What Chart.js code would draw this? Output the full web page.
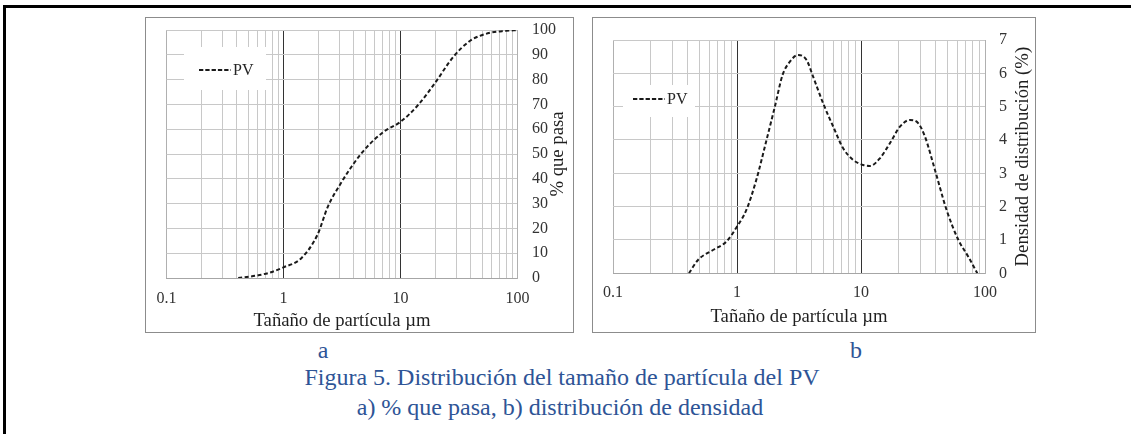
<!DOCTYPE html>
<html>
<head>
<meta charset="utf-8">
<script src="https://cdn.jsdelivr.net/npm/chart.js@4.4.0/dist/chart.umd.min.js"></script>
<style>
  body { margin: 0; width: 1131px; height: 434px; background: #fff; position: relative; overflow: hidden;
         font-family: "Liberation Serif", "Times New Roman", serif; }
  .rule { position: absolute; background: #000; }
  .frame { position: absolute; top: 17px; height: 316px; border: 1px solid #8c8c8c; box-sizing: border-box; }
  .panel { position: absolute; top: 6px; }
  .cap { position: absolute; color: #2e5496; font-size: 24px; line-height: 24px; white-space: nowrap;
         transform: translateX(-50%); }
</style>
</head>
<body>
<div class="rule" style="left:3px;top:5px;width:1128px;height:3px"></div>
<div class="rule" style="left:3px;top:5px;width:3px;height:429px"></div>

<div class="frame" style="left:145px;width:429px"></div>
<div class="frame" style="left:592px;width:444px"></div>
<div class="panel" style="left:145px"><canvas id="chartA" width="429" height="327"></canvas></div>
<div class="panel" style="left:592px"><canvas id="chartB" width="444" height="327"></canvas></div>

<div class="cap" style="left:323px;top:338px">a</div>
<div class="cap" style="left:856px;top:338px">b</div>
<div class="cap" style="left:562px;top:365px">Figura 5. Distribución del tamaño de partícula del PV</div>
<div class="cap" style="left:560px;top:395px">a) % que pasa, b) distribución de densidad</div>

<script>
// particle size (µm) and % passing, panel a
const sizeA = [0.41, 0.54, 0.74, 1.0, 1.42, 1.95, 2.4, 3.1, 4.0, 5.2, 7.2, 10, 13.9, 19.2, 28.4, 39.4, 58, 80, 100];
const passA = [0, 0.7, 2, 4.3, 8, 17.4, 28.9, 38.3, 46.3, 53, 59, 63, 69.4, 77.9, 89.3, 95.7, 98.9, 99.7, 100];

// particle size (µm) and distribution density (%), panel b
const sizeB = [0.41, 0.485, 0.64, 0.82, 1.0, 1.19, 1.43, 1.73, 2.02, 2.33, 2.67, 3.11, 3.64, 4.11, 4.95, 5.97,
               7.18, 8.65, 10.4, 11.8, 14.2, 17.1, 20.6, 24.8, 29, 32.8, 39.5, 49, 61, 73.3, 86.7];
const densB = [0, 0.4, 0.7, 0.95, 1.4, 1.9, 2.8, 4.0, 5.0, 5.95, 6.35, 6.55, 6.4, 5.9, 5.1, 4.4,
               3.75, 3.4, 3.25, 3.22, 3.45, 3.9, 4.4, 4.6, 4.5, 4.1, 3.1, 1.9, 1.0, 0.5, 0];

const seriesLabel = 'PV';
const xTickValues = [0.1, 1, 10, 100];
const xTickLabels = ['0.1', '1', '10', '100'];
const xTitle = 'Tañaño de partícula µm';
const yTitleA = '% que pasa';
const yTitleB = 'Densidad de distribución (%)';

const SERIF = '"Liberation Serif", "Times New Roman", serif';
Chart.defaults.font.family = SERIF;

// every 1..9 x 10^n line between 0.1 and 100
const logGrid = [];
for (let e = -1; e <= 1; e++) {
  for (let m = 1; m <= 9; m++) logGrid.push(Number((m * Math.pow(10, e)).toPrecision(3)));
}
logGrid.push(100);

const isMajor = v => Math.abs(v - 1) < 1e-9 || Math.abs(v - 10) < 1e-9;
const isEdge = v => Math.abs(v - 0.1) < 1e-9 || Math.abs(v - 100) < 1e-9;

const decor = {
  id: 'decor',
  afterDraw(chart, args, o) {
    const { ctx, chartArea: a } = chart;
    ctx.save();

    // legend
    const lg = o.legend;
    ctx.fillStyle = '#fff';
    ctx.fillRect(lg.x, lg.y, lg.w, lg.h);
    ctx.strokeStyle = '#1a1a1a';
    ctx.lineWidth = 2;
    ctx.setLineDash([4.3, 2]);
    ctx.beginPath();
    ctx.moveTo(lg.lx, lg.ly);
    ctx.lineTo(lg.lx + 32, lg.ly);
    ctx.stroke();
    ctx.setLineDash([]);
    ctx.fillStyle = '#262626';
    ctx.font = '16px ' + SERIF;
    ctx.textBaseline = 'middle';
    ctx.textAlign = 'left';
    ctx.fillText(chart.data.datasets[0].label, lg.lx + 34, lg.ly + 1);

    // axis titles
    ctx.fillStyle = '#1f1f1f';
    ctx.font = '18.7px ' + SERIF;
    ctx.textAlign = 'center';
    ctx.textBaseline = 'alphabetic';
    ctx.fillText(o.xTitle, (a.left + a.right) / 2, a.bottom + o.xTitleDy);
    ctx.translate(a.right + o.yTitleDx, (a.top + a.bottom) / 2);
    ctx.rotate(-Math.PI / 2);
    ctx.textBaseline = 'middle';
    ctx.fillText(o.yTitle, 0, 0);
    ctx.restore();
  }
};

function makeChart(id, xs, ys, yMax, yStep, geo) {
  return new Chart(document.getElementById(id), {
    type: 'line',
    data: {
      datasets: [{
        label: seriesLabel,
        data: xs.map((x, i) => ({ x: x, y: ys[i] })),
        borderColor: '#1a1a1a',
        borderWidth: 2,
        borderDash: [4, 2.5],
        pointRadius: 0,
        cubicInterpolationMode: 'monotone',
        fill: false
      }]
    },
    options: {
      responsive: false,
      animation: false,
      layout: { padding: { left: geo.left, top: geo.top, right: 0, bottom: 0 } },
      plugins: {
        legend: { display: false },
        tooltip: { enabled: false },
        decor: geo.decor
      },
      scales: {
        x: {
          type: 'logarithmic',
          position: 'bottom',
          min: 0.1,
          max: 100,
          afterBuildTicks: s => { s.ticks = logGrid.map(v => ({ value: v })); },
          afterFit: s => { s.height = geo.xH; },
          border: { color: '#a6a6a6' },
          grid: {
            drawTicks: false,
            color: c => isMajor(c.tick.value) ? '#333' : (isEdge(c.tick.value) ? '#b0b0b0' : '#c8c8c8')
          },
          ticks: {
            autoSkip: false,
            maxRotation: 0,
            padding: geo.xPad,
            color: '#333',
            font: { size: 16 },
            callback: v => {
              const i = xTickValues.findIndex(t => Math.abs(t - v) < 1e-9);
              return i >= 0 ? xTickLabels[i] : '';
            }
          }
        },
        y: {
          position: 'right',
          min: 0,
          max: yMax,
          afterFit: s => { s.width = geo.yW; },
          border: { color: '#b0b0b0' },
          grid: { drawTicks: false, color: '#c8c8c8' },
          ticks: { stepSize: yStep, padding: geo.yPad, color: '#333', font: { size: 16 } }
        }
      }
    },
    plugins: [decor]
  });
}

makeChart('chartA', sizeA, passA, 100, 10, {
  left: 19, top: 24, xH: 55, yW: 56.5, xPad: 11.5, yPad: 14.5,
  decor: { xTitle: xTitle, yTitle: yTitleA, xTitleDy: 48, yTitleDx: 40.5,
           legend: { x: 39, y: 41, w: 82, h: 43, lx: 54, ly: 64 } }
});

makeChart('chartB', sizeB, densB, 7, 1, {
  left: 21, top: 34, xH: 59.7, yW: 51, xPad: 10, yPad: 14,
  decor: { xTitle: xTitle, yTitle: yTitleB, xTitleDy: 48.5, yTitleDx: 38,
           legend: { x: 31, y: 79, w: 72, h: 32, lx: 41, ly: 93 } }
});
</script>
</body>
</html>
